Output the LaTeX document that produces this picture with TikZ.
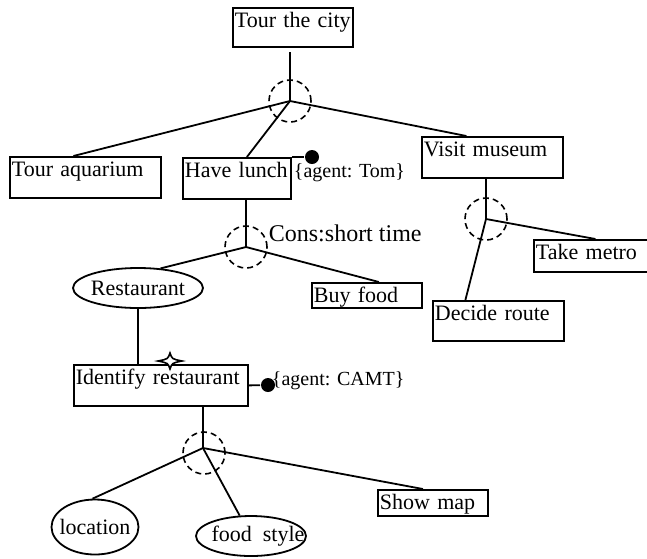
\documentclass[tikz,border=0pt]{standalone}
\usepackage{fontspec}
\setmainfont{Liberation Serif}
\usetikzlibrary{shapes.geometric}

\begin{document}
\begin{tikzpicture}[
    x=1pt, y=-1pt,
    line width=1.8pt,
    every node/.style={font=\fontsize{22}{26}\selectfont},
    goalbox/.style 2 args={
        draw, anchor=north west, inner xsep=2pt, inner ysep=0pt,
        text width=#1pt, text height=20pt, text depth=#2pt, align=left
    },
    optellipse/.style 2 args={
        ellipse, draw, inner sep=0pt,
        minimum width=#1pt, minimum height=#2pt
    },
    orcircle/.style={
        circle, draw, dash pattern=on 6pt off 4pt, line width=1.6pt,
        minimum size=42pt, inner sep=0pt
    },
    agentdot/.style={
        circle, fill=black, inner sep=0pt, minimum size=14pt
    },
    agentlabel/.style={
        anchor=base west, inner sep=0pt, font=\fontsize{20}{24}\selectfont
    },
]
\useasboundingbox (0,0) rectangle (647,558);

% ── Goals ──
\node[goalbox={116}{19}] (city) at (232,7) {Tour the city};
\node[goalbox={147}{21}] (aquarium) at (9,156) {Tour aquarium};
\node[goalbox={104}{21}] (lunch) at (182,157) {Have lunch};
\node[goalbox={137}{21}] (museum) at (421,136) {Visit museum};
\node[goalbox={113}{12}] (metro) at (533,239) {Take metro};
\node[goalbox={127}{20}] (route) at (432,300) {Decide route};
\node[goalbox={106}{5}] (buyfood) at (311,282) {Buy food};
\node[goalbox={170}{21}] (identify) at (73,364) {Identify restaurant};
\node[goalbox={106}{6}] (showmap) at (377,489) {Show map};

% ── Resources ──
\node[optellipse={130}{40}] (restaurant) at (138,288) {\makebox[0pt]{Restaurant}};
\node[optellipse={87}{55}] (location) at (95,527) {\makebox[0pt]{location}};
\node[optellipse={110}{40}] (foodstyle) at (251,536) {\makebox[0pt]{\hspace*{14pt}food~~style}};

% ── Decompositions ──
\coordinate (j1) at (290,101);
\coordinate (j2) at (246,247);
\coordinate (j3) at (486,219);
\coordinate (j4) at (203,448);
\node[orcircle] (or1) at (j1) {};
\node[orcircle] (or2) at (j2) {};
\node[orcircle] (or3) at (j3) {};
\node[orcircle] (or4) at (204,453) {};

\draw (j1) -- ++(0,-49);
\draw (j1) -- ([xshift=-12pt]aquarium.north);
\draw (j1) -- ([xshift=10pt]lunch.north);
\draw (j1) -- ([xshift=-26pt]museum.north);

\draw (lunch.south -| j2) -- (j2);
\draw (j2) -- (restaurant.41);
\draw (j2) -- ([xshift=12pt]buyfood.north);

\draw (museum.south -| j3) -- (j3);
\draw (j3) -- ([xshift=3pt]metro.north);
\draw (j3) -- ([xshift=-33pt]route.north);

\draw (restaurant.south) -- (restaurant.south |- identify.north);

\draw (identify.south -| j4) -- (j4);
\draw (j4) -- (location.95);
\draw (j4) -- (foodstyle.119);
\draw (j4) -- ([xshift=-10pt]showmap.north);

% ── Agents ──
\node[agentdot] (tomdot) at (312,157) {};
\draw (lunch.north east) -- (tomdot);
\node[agentlabel] (tomlabel) at (293,177) {\{agent: Tom\}};

\node[agentdot] (camtdot) at (268,385) {};
\draw (identify.east) -- (camtdot);
\node[agentlabel] (camtlabel) at (271,385) {\{agent: CAMT\}};

% ── Constraint ──
\node[anchor=base west, inner sep=0pt, font=\fontsize{24}{28}\selectfont]
    (cons) at (268,241) {Cons:short time};

% ── Marker ──
\draw[fill=white, line width=1.6pt] (158,361) .. controls (168,359) .. (170,353)
    .. controls (172,359) .. (182,361) .. controls (172,363) .. (170,369)
    .. controls (168,363) .. (158,361) -- cycle;

\end{tikzpicture}
\end{document}
